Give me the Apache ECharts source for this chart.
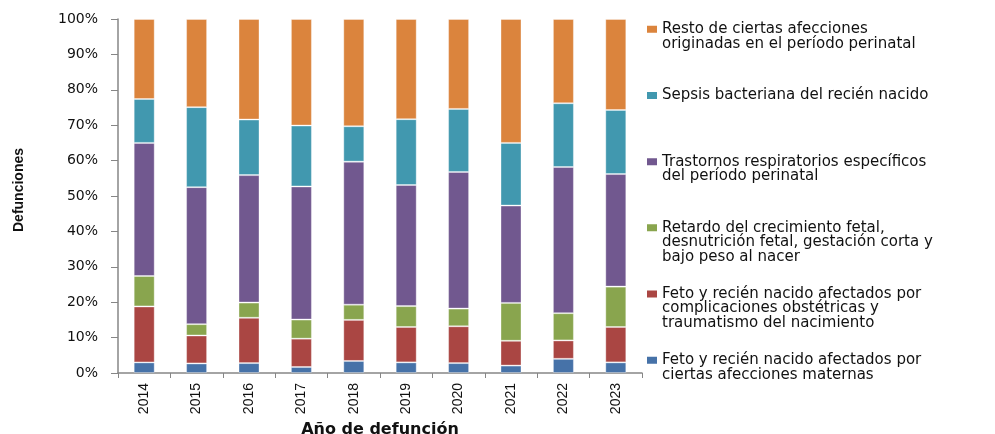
<!DOCTYPE html>
<html><head><meta charset="utf-8">
<script src="https://cdn.jsdelivr.net/npm/echarts@6/dist/echarts.min.js"></script>
<style>html,body{margin:0;padding:0;background:#fff}#c{width:995px;height:434px}</style>
</head><body><div id="c"></div>
<script>
// ---- Data (percent of deaths per year) ----
const years = ['2014','2015','2016','2017','2018','2019','2020','2021','2022','2023'];
const maternas       = [3.0, 2.7, 2.8, 1.7, 3.4, 3.0, 2.8, 2.1, 4.0, 3.0];
const complicaciones = [15.8, 7.9, 12.8, 8.0, 11.6, 10.0, 10.4, 7.0, 5.2, 10.0];
const retardo        = [8.6, 3.2, 4.3, 5.4, 4.3, 5.9, 5.0, 10.7, 7.7, 11.4];
const respiratorios  = [37.6, 38.7, 36.0, 37.6, 40.4, 34.2, 38.6, 27.5, 41.3, 31.8];
const sepsis         = [12.4, 22.6, 15.7, 17.2, 10.0, 18.6, 17.8, 17.7, 18.0, 18.1];
const resto          = [22.6, 24.9, 28.4, 30.1, 30.3, 28.3, 25.4, 35.0, 23.8, 25.7];

const seriesNames = [
  'Feto y recién nacido afectados por\nciertas afecciones maternas',
  'Feto y recién nacido afectados por\ncomplicaciones obstétricas y\ntraumatismo del nacimiento',
  'Retardo del crecimiento fetal,\ndesnutrición fetal, gestación corta y\nbajo peso al nacer',
  'Trastornos respiratorios específicos\ndel período perinatal',
  'Sepsis bacteriana del recién nacido',
  'Resto de ciertas afecciones\noriginadas en el período perinatal'
];
const seriesData = [maternas, complicaciones, retardo, respiratorios, sepsis, resto];
const seriesColors = ['#4672A8', '#AA4643', '#89A54E', '#71588F', '#4198AF', '#DB843D'];
const yAxisTitle = 'Defunciones';
const xAxisTitle = 'Año de defunción';

// ---- Chart ----
const chart = echarts.init(document.getElementById('c'), null, {renderer: 'canvas'});
const LH = 14.5;
function iconFor(lines) {
  const H = lines * LH, a = LH / 2 - 3.5, b = LH / 2 + 3.5;
  return `path://M0,0L10,0M0,${a}L10,${a}L10,${b}L0,${b}ZM0,${H}L10,${H}`;
}
const legendOrder = [5, 4, 3, 2, 1, 0];
const legends = legendOrder.map((si, k) => {
  const lines = seriesNames[si].split('\n').length;
  const center = 29 + k * 66.2;
  return {
    data: [{name: seriesNames[si], icon: iconFor(lines)}],
    left: 647, top: center - LH / 2,
    padding: 0, itemWidth: 10, itemHeight: lines * LH, itemGap: 0,
    selectedMode: false,
    itemStyle: {borderWidth: 0},
    textStyle: {fontFamily: 'DejaVu Sans', fontSize: 15, lineHeight: LH, color: '#111'}
  };
});

chart.setOption({
  animation: false,
  backgroundColor: '#fff',
  grid: {left: 118, right: 353, top: 19, bottom: 61, containLabel: false, outerBoundsMode: 'none'},
  legend: legends,
  xAxis: {
    type: 'category', data: years,
    name: xAxisTitle, nameLocation: 'middle', nameGap: 40,
    nameTextStyle: {fontFamily: 'DejaVu Sans', fontWeight: 'bold', fontSize: 16, color: '#111'},
    axisLine: {lineStyle: {color: '#868686', width: 1.5}},
    axisTick: {show: true, length: 5, lineStyle: {color: '#868686'}},
    axisLabel: {rotate: 90, margin: 10, fontFamily: 'Liberation Sans', fontSize: 14, color: '#111'}
  },
  yAxis: {
    type: 'value', min: 0, max: 100, interval: 10,
    name: yAxisTitle, nameLocation: 'middle', nameGap: 92, nameRotate: 90,
    nameTextStyle: {fontFamily: 'Liberation Sans', fontWeight: 'bold', fontSize: 14, color: '#111', padding: [0, 0, 0, 12]},
    axisLine: {show: true, lineStyle: {color: '#868686', width: 1.5}},
    axisTick: {show: true, length: 7, lineStyle: {color: '#868686'}},
    splitLine: {show: false},
    axisLabel: {formatter: '{value}%', margin: 20, fontFamily: 'DejaVu Sans', fontSize: 14, color: '#111'}
  },
  series: seriesData.map((d, i) => ({
    type: 'bar', name: seriesNames[i], stack: 'total', data: d,
    barWidth: 21,
    itemStyle: {color: seriesColors[i], borderColor: 'rgba(255,255,255,0.35)', borderWidth: 1}
  }))
});
</script></body></html>
